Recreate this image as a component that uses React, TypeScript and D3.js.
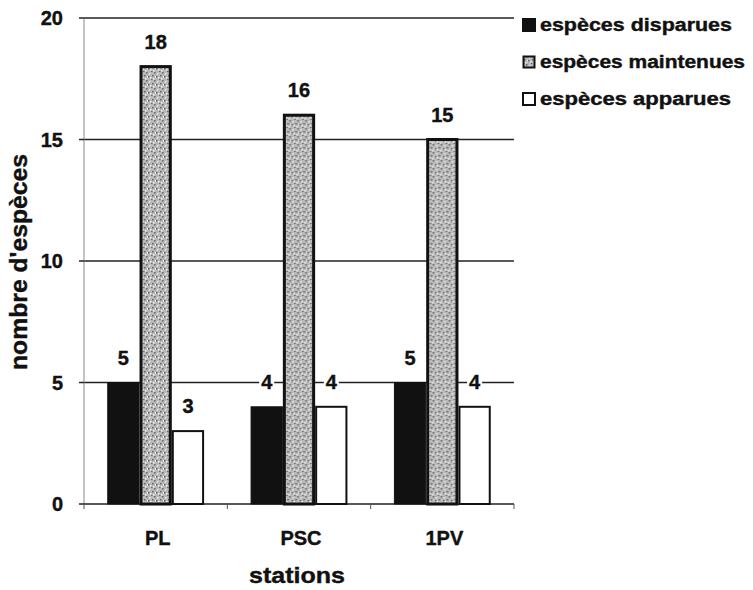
import React from "react";
import * as d3 from "d3";

const stations = ["PL", "PSC", "1PV"];
const seriesNames = ["espèces disparues", "espèces maintenues", "espèces apparues"];
const disparues = [5, 4, 5];
const maintenues = [18, 16, 15];
const apparues = [3, 4, 4];
const yTicks = [0, 5, 10, 15, 20];

const W = 753, H = 590;
const m = { left: 84, right: 514, top: 18, bottom: 504 };
const font = "Arial, 'Liberation Sans', sans-serif";
const ink = "#111";

export default function App() {
  const values = [disparues, maintenues, apparues];
  const x0 = d3.scaleBand().domain(stations).range([m.left, m.right]).padding(0);
  const x1 = d3.scaleBand().domain(seriesNames).range([0, x0.bandwidth()]).paddingInner(0).paddingOuter(0.72);
  const y = d3.scaleLinear().domain([0, 20]).range([m.bottom, m.top]);

  const fills = ["#111", "url(#stipple)", "#fff"];
  const strokeW = [1, 3, 2];
  const legendLen = [192, 205, 191];

  // fixed dot offsets for the grey stipple texture
  const dots = [[1, 1], [4, 3], [2, 5], [6, 0], [5, 6], [0, 4], [7, 4], [3, 7]];

  const boldText = { fontFamily: font, fontWeight: "bold" as const, fill: ink, stroke: ink, strokeWidth: 0.4 };

  return (
    <svg width={W} height={H} style={{ position: "absolute", left: 0, top: 0, background: "#fff" }}>
      <defs>
        <pattern id="stipple" width={8} height={8} patternUnits="userSpaceOnUse">
          <rect width={8} height={8} fill="#b8b8b8" />
          {dots.map(([a, b], i) => (
            <rect key={i} x={a} y={b} width={1.5} height={1.5} fill={i % 2 ? "#666" : "#ececec"} />
          ))}
        </pattern>
      </defs>

      {/* gridlines */}
      {yTicks.filter(t => t > 0).map(t => (
        <line key={t} x1={m.left} x2={m.right} y1={y(t)} y2={y(t)} stroke="#222" strokeWidth={1.5} />
      ))}
      {/* axes */}
      <line x1={m.left} x2={m.left} y1={m.top} y2={m.bottom} stroke="#888" strokeWidth={1} />
      <line x1={m.left} x2={m.right} y1={m.bottom} y2={m.bottom} stroke="#222" strokeWidth={1.5} />
      {yTicks.map(t => (
        <line key={"yt" + t} x1={m.left - 5} x2={m.left} y1={y(t)} y2={y(t)} stroke="#222" strokeWidth={1.5} />
      ))}
      {[...stations.map(s => x0(s) as number), m.right].map((v, i) => (
        <line key={"xt" + i} x1={v} x2={v} y1={m.bottom} y2={m.bottom + 5} stroke="#555" strokeWidth={1} />
      ))}

      {/* bars */}
      {stations.map((s, i) => (
        <g key={s} transform={`translate(${x0(s)},0)`}>
          {seriesNames.map((n, j) => {
            const v = values[j][i];
            const bx = x1(n) as number;
            const bw = x1.bandwidth();
            return (
              <rect key={n} x={bx + strokeW[j] / 2} y={y(v)} width={bw - strokeW[j]} height={m.bottom - y(v)}
                fill={fills[j]} stroke={ink} strokeWidth={strokeW[j]} />
            );
          })}
        </g>
      ))}

      {/* value labels */}
      {stations.map((s, i) => (
        <g key={"l" + s} transform={`translate(${x0(s)},0)`}>
          {seriesNames.map((n, j) => {
            const v = values[j][i];
            const cx = (x1(n) as number) + x1.bandwidth() / 2;
            const cy = y(v) - 25;
            const tw = String(v).length * 11 + 4;
            return (
              <g key={n}>
                <rect x={cx - tw / 2} y={cy - 10} width={tw} height={20} fill="#fff" />
                <text x={cx} y={cy} dy="0.36em" textAnchor="middle" fontSize={20} {...boldText}>{v}</text>
              </g>
            );
          })}
        </g>
      ))}

      {/* y tick labels */}
      {yTicks.map(t => (
        <text key={"yl" + t} x={63} y={y(t)} dy="0.36em" textAnchor="end" fontSize={20} {...boldText}>{t}</text>
      ))}
      {/* x labels */}
      {stations.map(s => (
        <text key={"xl" + s} x={(x0(s) as number) + x0.bandwidth() / 2 + 2} y={538} dy="0.36em" textAnchor="middle" fontSize={20} {...boldText}>{s}</text>
      ))}
      <text x={297} y={575} dy="0.36em" textAnchor="middle" fontSize={22} textLength={96} lengthAdjust="spacingAndGlyphs" {...boldText}>stations</text>
      <text transform="translate(19,262) rotate(-90)" dy="0.36em" textAnchor="middle" fontSize={23} textLength={216} lengthAdjust="spacingAndGlyphs" {...boldText}>nombre d'espèces</text>

      {/* legend */}
      {seriesNames.map((n, j) => {
        const ly = 25 + j * 37;
        return (
          <g key={"lg" + n}>
            <rect x={522 + strokeW[j] / 2} y={ly - 7 + strokeW[j] / 2} width={14 - strokeW[j]} height={14 - strokeW[j]}
              fill={fills[j]} stroke={ink} strokeWidth={Math.min(strokeW[j], 2)} />
            <text x={540} y={ly} dy="0.36em" fontSize={18} textLength={legendLen[j]} lengthAdjust="spacingAndGlyphs" {...boldText}>{n}</text>
          </g>
        );
      })}
    </svg>
  );
}
